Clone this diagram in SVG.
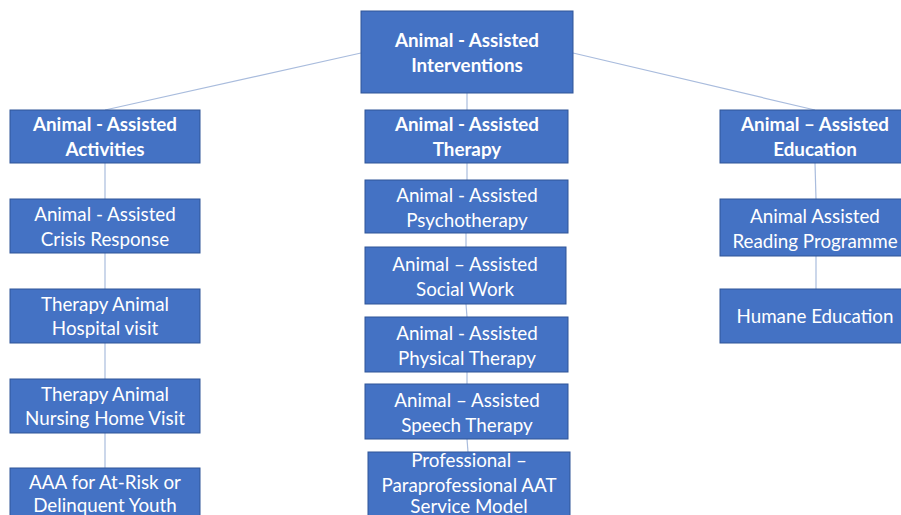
<svg xmlns="http://www.w3.org/2000/svg" width="901" height="515" viewBox="0 0 901 515">
<style>
.box{fill:#4472C4;stroke:#2F5597;stroke-width:1}
.t{font-family:Lato,"Open Sans",sans-serif;font-size:18.8px;fill:#FFFFFF;text-anchor:middle}
.b{font-weight:bold}
.c{stroke:#A9BCDD;stroke-width:1.2;fill:none}
</style>
<rect width="901" height="515" fill="#FFFFFF"/>
<g id="connectors">
<line class="c" x1="361" y1="53" x2="105" y2="110"/>
<line class="c" x1="573" y1="53" x2="815" y2="110"/>
<line class="c" x1="467" y1="93" x2="467" y2="110"/>
<line class="c" x1="105" y1="163" x2="105" y2="199"/>
<line class="c" x1="105" y1="253" x2="105" y2="289"/>
<line class="c" x1="105" y1="343" x2="105" y2="379"/>
<line class="c" x1="105" y1="433" x2="105" y2="468"/>
<line class="c" x1="467" y1="163" x2="467" y2="180"/>
<line class="c" x1="466" y1="233" x2="466" y2="247"/>
<line class="c" x1="466" y1="304" x2="467" y2="317"/>
<line class="c" x1="467" y1="372" x2="467" y2="384"/>
<line class="c" x1="467" y1="439" x2="468" y2="452"/>
<line class="c" x1="815" y1="163" x2="816" y2="199"/>
<line class="c" x1="816" y1="256" x2="816" y2="289"/>
</g>
<g id="n_root"><rect class="box" x="361" y="11" width="212" height="82"/>
<text class="t b" x="467" y="47">Animal - Assisted</text><text class="t b" x="467" y="72">Interventions</text></g>
<g id="n_aaa_act"><rect class="box" x="10" y="110" width="190" height="53"/>
<text class="t b" x="105" y="131">Animal - Assisted</text><text class="t b" x="105" y="156">Activities</text></g>
<g id="n_crisis"><rect class="box" x="10" y="199" width="190" height="54"/>
<text class="t" x="105" y="221">Animal - Assisted</text><text class="t" x="105" y="246">Crisis Response</text></g>
<g id="n_hospital"><rect class="box" x="10" y="289" width="190" height="54"/>
<text class="t" x="105" y="311">Therapy Animal</text><text class="t" x="105" y="335">Hospital visit</text></g>
<g id="n_nursing"><rect class="box" x="10" y="379" width="190" height="54"/>
<text class="t" x="105" y="401">Therapy Animal</text><text class="t" x="105" y="425">Nursing Home Visit</text></g>
<g id="n_youth"><rect class="box" x="10" y="468" width="190" height="60"/>
<text class="t" x="105" y="489">AAA for At-Risk or</text><text class="t" x="105" y="512">Delinquent Youth</text></g>
<g id="n_aat"><rect class="box" x="365" y="110" width="203" height="53"/>
<text class="t b" x="467" y="131">Animal - Assisted</text><text class="t b" x="467" y="156">Therapy</text></g>
<g id="n_psycho"><rect class="box" x="365" y="180" width="203" height="53"/>
<text class="t" x="467" y="202">Animal - Assisted</text><text class="t" x="467" y="227">Psychotherapy</text></g>
<g id="n_social"><rect class="box" x="365" y="247" width="201" height="57"/>
<text class="t" x="465" y="271">Animal – Assisted</text><text class="t" x="465" y="296">Social Work</text></g>
<g id="n_physical"><rect class="box" x="365" y="317" width="203" height="55"/>
<text class="t" x="467" y="340">Animal - Assisted</text><text class="t" x="467" y="365">Physical Therapy</text></g>
<g id="n_speech"><rect class="box" x="365" y="384" width="203" height="55"/>
<text class="t" x="467" y="407">Animal – Assisted</text><text class="t" x="467" y="432">Speech Therapy</text></g>
<g id="n_prof"><rect class="box" x="368" y="452" width="202" height="80"/>
<text class="t" x="469" y="467">Professional –</text><text class="t" x="469" y="492">Paraprofessional AAT</text><text class="t" x="469" y="513">Service Model</text></g>
<g id="n_aae"><rect class="box" x="720" y="110" width="190" height="53"/>
<text class="t b" x="815" y="131">Animal – Assisted</text><text class="t b" x="815" y="156">Education</text></g>
<g id="n_reading"><rect class="box" x="720" y="199" width="190" height="57"/>
<text class="t" x="815" y="223">Animal Assisted</text><text class="t" x="815" y="248">Reading Programme</text></g>
<g id="n_humane"><rect class="box" x="720" y="289" width="190" height="54"/>
<text class="t" x="815" y="323">Humane Education</text></g>
</svg>
